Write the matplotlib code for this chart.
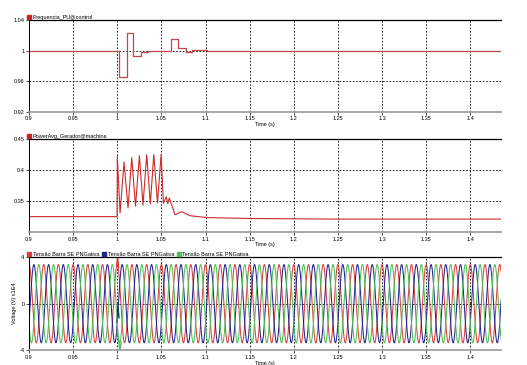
#Recreates the three stacked simulation traces (frequency, power, bus voltage)

import numpy as np
import matplotlib
matplotlib.use("Agg")
from matplotlib import pyplot as plt
from matplotlib.lines import Line2D
from matplotlib.ticker import FuncFormatter

#frequency in pu, step trace
freq_t = [0.9, 1.0022, 1.0108, 1.0183, 1.027, 1.035, 1.046, 1.0485, 1.0606, 1.069, 1.078, 1.0844, 1.1015, 1.435]
freq_v = [1.0, 0.9655, 1.0233, 0.9927, 0.9987, 0.9992, 0.9996, 1.0003, 1.015, 1.0035, 0.998, 1.0005, 1.0, 1.0]

#average generator power, extrema of the oscillation
power_t = [0.9, 0.9998, 1.0001, 1.0032, 1.0077, 1.0122, 1.0164, 1.0207, 1.0251, 1.0292, 1.0334, 1.0375,
           1.0414, 1.0456, 1.0497, 1.0523, 1.0555, 1.0572, 1.059, 1.0655, 1.073, 1.0825, 1.1015, 1.15, 1.25, 1.435]
power_v = [0.325, 0.325, 0.422, 0.331, 0.413, 0.339, 0.420, 0.342, 0.423, 0.3435, 0.425, 0.3455,
           0.425, 0.347, 0.425, 0.346, 0.357, 0.346, 0.355, 0.328, 0.333, 0.3265, 0.3235, 0.322, 0.321, 0.321]

#three phase bus voltage (x1E4 V)
phase_names = ["Tensão Barra SE PNGativa"] * 3
phase_colors = ["#d8403c", "#23238c", "#4cbf55"]
phase_amp = [3.35, 3.35, 3.35]
phase_deg = [0, -120, 120]
grid_freq = 60.0
#short disturbance at the fault instant: (time, value) per phase
spike_t = [[0.9992, 1.0005, 1.0015], [0.9995, 1.0008, 1.002], [1.0, 1.003, 1.0045]]
spike_v = [[3.3, 3.95, 3.1], [-1.6, -0.3, -1.2], [-2.4, -3.95, -3.3]]

xticks = [0.9, 0.95, 1.0, 1.05, 1.1, 1.15, 1.2, 1.25, 1.3, 1.35, 1.4]
xmin, xmax = 0.9, 1.435

plt.rcParams['font.family'] = ['Liberation Sans', 'DejaVu Sans']

fig = plt.figure(figsize=(5.27, 3.65), dpi=100)
ax1 = fig.add_axes([0.055, 0.693, 0.896, 0.252])
ax2 = fig.add_axes([0.055, 0.364, 0.896, 0.255])
ax3 = fig.add_axes([0.055, 0.040, 0.896, 0.256])

fmt = FuncFormatter(lambda v, p: "%g" % round(v, 4))

def style(ax, ylim, yticks):
	ax.set_xlim(xmin, xmax)
	ax.set_ylim(*ylim)
	ax.set_xticks(xticks)
	ax.set_yticks(yticks)
	ax.xaxis.set_major_formatter(fmt)
	ax.yaxis.set_major_formatter(fmt)
	ax.tick_params(labelsize=4, length=2, width=0.5, pad=1.2)
	ax.grid(True, color="black", linestyle=(0, (2, 2)), linewidth=0.6)
	ax.spines["right"].set_visible(False)
	ax.spines["top"].set_linewidth(0.9)
	ax.spines["left"].set_linewidth(0.7)
	ax.spines["bottom"].set_color("#9a9a9a")
	ax.spines["bottom"].set_linewidth(1.2)
	ax.set_xlabel("Time (s)", fontsize=4, labelpad=0.5)

def legend(ax, handles, labels):
	ax.legend(handles=handles, labels=labels, loc="lower left", bbox_to_anchor=(-0.006, 0.985),
		ncol=len(labels), frameon=False, fontsize=4, handlelength=0.7, handletextpad=0.3,
		columnspacing=0.5, borderaxespad=0, borderpad=0.2)

def square(c):
	return Line2D([], [], color=c, marker="s", ls="", ms=2.5)

#panel 1: frequency
ax1.plot(freq_t, freq_v, drawstyle="steps-post", color="#c0474a", lw=0.9)
style(ax1, (0.92, 1.04), [0.92, 0.96, 1.0, 1.04])
legend(ax1, [square("#cc2222")], ["Frequencia_PU@control"])

#panel 2: power
ax2.plot(power_t, power_v, color="#cc2a2a", lw=0.8)
style(ax2, (0.3, 0.45), [0.35, 0.4, 0.45])
legend(ax2, [square("#cc2222")], ["PowerAvg_Gerador@machine"])

#panel 3: three phase voltage
t = np.linspace(xmin, xmax, 6000)
for i in range(3):
	v = phase_amp[i] * np.cos(2 * np.pi * grid_freq * t + np.radians(phase_deg[i]))
	ax3.plot(t, v, color=phase_colors[i], lw=0.75)
	ax3.plot(spike_t[i], spike_v[i], color=phase_colors[i], lw=1.0)
style(ax3, (-4, 4), [-4, 0, 4])
ax3.set_ylabel("Voltage (V) x1E4", fontsize=4, labelpad=2)
legend(ax3, [square(c) for c in phase_colors], phase_names)

fig.savefig("out.png", dpi=100)
